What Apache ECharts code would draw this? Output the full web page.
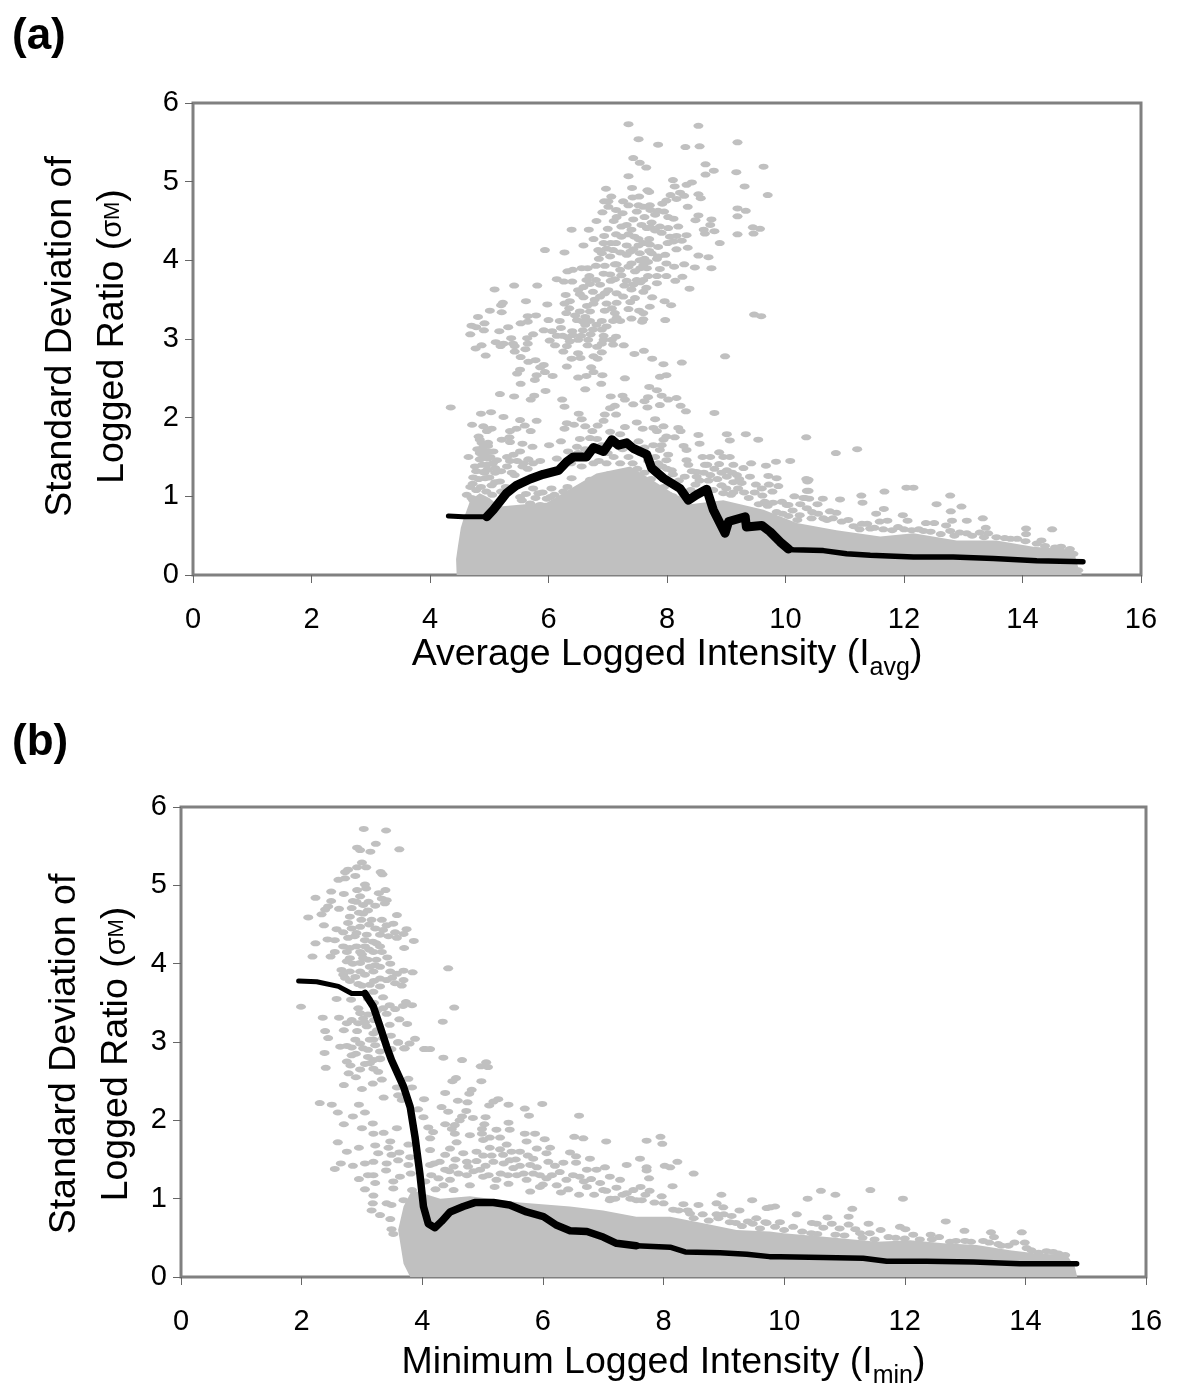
<!DOCTYPE html>
<html><head><meta charset="utf-8">
<script src="https://cdn.jsdelivr.net/npm/echarts@6/dist/echarts.min.js"></script>
<style>html,body{margin:0;padding:0;background:#fff}#c{width:1200px;height:1400px}</style>
</head><body><div id="c"></div>
<script>
const panelLabels=['(a)','(b)'];
const xTitleA=['Average Logged Intensity (I','avg',')'];
const xTitleB=['Minimum Logged Intensity (I','min',')'];
const yTitle=['Standard Deviation of','Logged Ratio (','σ','M',')'];

const lineAHead=[[4.31,0.75],[4.56,0.74],[4.96,0.74]];
const lineABody=[[4.96,0.74],[5.07,0.83],[5.29,1.04],[5.46,1.14],[5.69,1.22],[5.91,1.28],[6.17,1.33],[6.31,1.44],[6.42,1.50],[6.64,1.50],[6.76,1.62],[6.93,1.57],[7.07,1.72],[7.18,1.65],[7.32,1.68],[7.43,1.61],[7.66,1.53],[7.74,1.36],[7.94,1.23],[8.22,1.10],[8.36,0.95],[8.50,1.02],[8.67,1.09],[8.78,0.83],[8.98,0.53],[9.04,0.68],[9.32,0.74],[9.34,0.61],[9.60,0.63],[9.74,0.55],[9.91,0.42],[10.05,0.33]];
const lineATail=[[10.05,0.33],[10.13,0.32],[10.64,0.31],[11.03,0.27],[11.43,0.25],[12.16,0.23],[12.83,0.23],[13.51,0.21],[14.24,0.18],[15.02,0.17]];
const lineBHead=[[1.95,3.78],[2.25,3.77],[2.61,3.71],[2.83,3.62],[3.05,3.62]];
const lineBBody=[[3.05,3.62],[3.19,3.45],[3.30,3.20],[3.41,2.94],[3.49,2.77],[3.69,2.43],[3.80,2.17],[3.88,1.79],[3.96,1.32],[4.02,0.90],[4.10,0.68],[4.21,0.63],[4.32,0.71],[4.46,0.83],[4.68,0.90],[4.87,0.95],[5.18,0.95],[5.45,0.92],[5.73,0.83],[6.01,0.77],[6.23,0.66],[6.45,0.59],[6.73,0.58],[7.0,0.51],[7.22,0.43],[7.55,0.40]];
const lineBTail=[[7.55,0.40],[7.83,0.39],[8.11,0.38],[8.36,0.32],[8.94,0.31],[9.38,0.29],[9.76,0.26],[9.93,0.26],[10.65,0.25],[11.31,0.24],[11.70,0.20],[12.36,0.20],[13.14,0.19],[13.91,0.17],[14.85,0.17]];

const denseA=[[4.45,0],[4.44,0.2],[4.47,0.36],[4.52,0.6],[4.56,0.70],[4.68,0.95],[4.84,1.04],[5.0,0.98],[5.18,0.87],[5.6,0.9],[5.97,0.92],[6.42,1.12],[6.81,1.29],[7.38,1.38],[7.83,1.17],[8.39,0.9],[8.95,0.95],[9.63,0.83],[10.19,0.66],[10.86,0.57],[11.6,0.49],[12.16,0.53],[12.89,0.44],[13.56,0.44],[14.18,0.36],[14.86,0.32],[14.94,0.1],[15.0,0]];
const denseB=[[3.80,0],[3.69,0.17],[3.60,0.6],[3.69,0.9],[3.83,1.11],[4.3,1.0],[4.79,1.03],[5.62,0.95],[6.45,0.90],[7.0,0.85],[7.55,0.77],[8.11,0.77],[8.66,0.685],[9.21,0.60],[9.76,0.58],[9.99,0.56],[10.71,0.51],[11.54,0.45],[12.09,0.47],[12.64,0.43],[13.19,0.41],[13.74,0.34],[14.19,0.30],[14.69,0.28],[14.82,0.13],[14.86,0]];

const scatterA=[[7.35,5.73],[8.53,5.71],[7.52,5.54],[7.85,5.47],[8.31,5.44],[8.55,5.45],[9.19,5.50],[7.43,5.30],[7.54,5.24],[7.65,5.18],[8.65,5.22],[8.79,5.14],[8.65,5.09],[9.17,5.12],[9.63,5.19],[7.35,5.07],[8.10,5.02],[8.42,4.99],[8.33,4.96],[8.13,4.94],[9.31,4.94],[6.97,4.91],[7.41,4.92],[7.67,4.89],[7.70,4.87],[8.22,4.86],[8.06,4.83],[8.53,4.84],[8.57,4.79],[8.29,4.82],[8.16,4.78],[9.70,4.83],[7.06,4.81],[7.42,4.80],[7.53,4.81],[6.94,4.75],[7.01,4.75],[7.26,4.75],[7.99,4.76],[7.92,4.72],[7.01,4.68],[7.52,4.70],[7.60,4.68],[7.71,4.70],[8.35,4.68],[9.19,4.66],[9.33,4.63],[7.14,4.64],[6.91,4.61],[7.49,4.62],[7.72,4.64],[7.85,4.63],
[6.81,4.50],[7.15,4.55],[7.43,4.52],[8.02,4.55],[8.11,4.53],[8.53,4.57],[8.48,4.51],[8.75,4.52],[8.73,4.45],[9.19,4.56],[6.39,4.39],[6.68,4.39],[7.23,4.43],[7.32,4.45],[7.40,4.39],[7.57,4.45],[7.66,4.41],[7.74,4.48],[7.88,4.43],[7.91,4.35],[8.02,4.41],[8.19,4.43],[8.16,4.31],[8.33,4.32],[8.62,4.39],[8.64,4.34],[8.80,4.37],[9.19,4.33],[9.45,4.42],[9.57,4.40],[9.46,4.34],
[6.94,4.31],[7.14,4.33],[7.23,4.30],[6.76,4.27],[7.52,4.27],[7.70,4.27],[7.60,4.22],[7.71,4.20],[7.85,4.17],[8.01,4.22],[8.11,4.24],[8.89,4.22],[6.59,4.19],[6.93,4.22],[7.14,4.22],[7.32,4.19],[7.52,4.19],[8.16,4.14],[8.35,4.16],
[5.94,4.13],[6.27,4.10],[6.84,4.13],[6.98,4.15],[7.09,4.13],[6.90,4.09],[7.21,4.10],[7.38,4.11],[7.43,4.14],[7.04,4.05],[7.32,4.07],[7.54,4.09],[7.74,4.09],[7.97,4.07],[8.53,4.06],[8.70,4.04],[7.54,4.00],[7.83,4.02],
[7.12,3.95],[7.40,3.96],[7.60,3.94],[7.68,3.98],[7.99,3.96],[8.29,3.95],[8.12,3.92],[8.47,3.91],[8.75,3.90],[6.80,3.93],[6.95,3.93],[6.56,3.90],[6.66,3.90],[6.41,3.88],[6.32,3.86],[7.21,3.88],[7.46,3.86],[7.88,3.89],[7.66,3.90],[6.93,3.83],[7.04,3.82],[7.23,3.81],[6.69,3.80],[7.68,3.80],[7.83,3.80],[7.99,3.80],[8.26,3.79],
[6.14,3.76],[6.26,3.73],[6.40,3.73],[6.64,3.75],[6.80,3.75],[7.05,3.74],[7.32,3.74],[7.49,3.75],[7.60,3.75],[8.14,3.74],[7.83,3.71],[6.87,3.69],[7.43,3.69],[5.42,3.68],[5.81,3.68],[6.59,3.66],[5.09,3.63],[7.40,3.63],[7.65,3.65],[8.38,3.64],[6.50,3.62],[7.01,3.62],
[6.95,3.58],[7.15,3.58],[6.29,3.56],[6.53,3.57],[6.59,3.53],[6.87,3.54],[7.26,3.54],[7.46,3.52],[7.75,3.53],[6.36,3.48],[5.62,3.48],[5.23,3.46],[6.27,3.45],[5.98,3.44],[6.76,3.45],[6.98,3.45],[7.15,3.46],[7.38,3.47],[7.96,3.48],[8.07,3.43],[7.71,3.41],[5.20,3.43],[6.35,3.39],[7.07,3.39],[7.35,3.38],
[5.01,3.36],[5.21,3.34],[6.30,3.33],[6.53,3.35],[6.70,3.35],[6.95,3.36],[7.12,3.33],[7.53,3.36],[7.60,3.33],[9.47,3.31],[9.59,3.29],[4.81,3.28],[5.65,3.29],[5.79,3.30],[6.62,3.28],[7.15,3.27],[7.40,3.26],[7.60,3.25],[7.97,3.24],[6.0,3.24],[6.19,3.23],[6.48,3.24],[6.70,3.23],[6.90,3.23],[7.09,3.23],[7.21,3.23],[7.58,3.22],[4.92,3.20],[5.53,3.20],[5.65,3.22],[4.70,3.17],[4.78,3.15],[5.32,3.15],[6.21,3.14],[6.81,3.18],[6.98,3.16],[6.62,3.18],
[4.91,3.11],[5.17,3.10],[5.92,3.11],[6.06,3.10],[6.90,3.12],[6.58,3.11],[4.68,3.06],[5.74,3.06],[6.14,3.04],[6.41,3.05],[6.71,3.06],[6.93,3.04],[5.37,3.01],[5.64,3.01],[7.14,3.03],[6.24,3.04],[6.50,2.99],[6.67,2.99],[6.93,2.99],[7.07,2.99],[5.11,2.96],[5.24,2.94],[5.40,2.94],[5.65,2.94],[6.02,2.98],[6.36,2.97],[6.90,2.94],[7.09,2.93],[7.27,2.92],[4.87,2.92],[4.77,2.88],[5.19,2.91],[5.43,2.91],[6.11,2.92],[6.31,2.91],[6.66,2.92],[5.61,2.87],[5.43,2.84],[6.25,2.84],[6.50,2.82],[6.90,2.83],[7.61,2.85],[7.45,2.81],[4.94,2.79],[5.53,2.77],[6.54,2.76],[6.39,2.75],[6.76,2.78],[6.83,2.75],[7.75,2.75],[8.98,2.78],[5.66,2.71],[5.78,2.73],[8.25,2.70],[7.94,2.68],[5.92,2.67],[5.86,2.64],[6.31,2.65],[6.72,2.64],
[5.52,2.61],[5.47,2.56],[5.80,2.54],[5.94,2.58],[6.07,2.53],[6.50,2.51],[6.64,2.53],[6.76,2.58],[6.91,2.54],[7.29,2.50],[7.88,2.52],[7.99,2.54],[5.77,2.48],[5.53,2.43],[6.89,2.43],[7.70,2.39],[7.83,2.35],[6.62,2.36],[5.95,2.34],[5.18,2.30],[5.42,2.27],[5.76,2.28],[5.70,2.23],[6.23,2.23],[7.05,2.27],[7.25,2.28],[7.29,2.23],[7.91,2.28],[7.68,2.26],[7.62,2.21],[8.02,2.23],[8.16,2.25],[7.43,2.17],[7.88,2.16],[4.35,2.13],[6.27,2.14],[7.04,2.12],[7.12,2.15],[7.67,2.13],[8.23,2.15],[8.32,2.08],[4.86,2.05],[5.03,2.07],[6.51,2.05],[6.95,2.04],[7.14,2.04],[8.80,2.06],[5.24,2.01],[6.56,1.98],[5.52,1.97],[5.80,1.96],[6.93,1.96],[7.80,1.98],[4.71,1.91],[4.90,1.89],[5.04,1.86],[4.96,1.83],[5.46,1.86],[5.60,1.90],[5.35,1.83],[5.70,1.83],[6.31,1.93],[6.43,1.91],[6.27,1.86],[6.62,1.89],[6.83,1.90],[6.74,1.83],[7.29,1.88],[7.49,1.94],[7.59,1.86],[7.77,1.87],[7.83,1.83],[7.94,1.89],[8.19,1.87],[8.23,1.83],[7.04,1.82],[7.21,1.79],
[8.53,1.78],[9.01,1.79],[9.33,1.79],[4.82,1.76],[5.21,1.72],[5.34,1.75],[5.35,1.69],[4.84,1.72],[6.21,1.70],[6.53,1.73],[6.70,1.74],[6.82,1.73],[7.99,1.76],[8.13,1.75],[7.52,1.70],[7.94,1.72],[9.06,1.71],[9.54,1.72],[10.35,1.75],[8.55,1.67],[5.56,1.67],[6.01,1.65],[5.73,1.63],[4.90,1.63],[4.98,1.64],[6.48,1.63],[7.77,1.65],[7.91,1.65],[8.28,1.64],[4.84,1.55],[4.98,1.57],[5.07,1.57],[5.52,1.57],[5.41,1.53],[6.33,1.57],[8.33,1.59],[7.88,1.59],[8.88,1.56],[4.65,1.50],[4.87,1.48],[4.98,1.48],[5.13,1.46],[5.35,1.45],[5.66,1.47],[5.86,1.45],[6.14,1.48],[8.02,1.53],[8.73,1.50],[8.95,1.50],[9.06,1.50],[9.84,1.44],[10.08,1.45],[5.58,1.42],[4.76,1.38],[4.96,1.40],[5.10,1.36],[4.90,1.31],[6.56,1.38],[6.76,1.42],[6.98,1.42],[7.21,1.42],[7.99,1.46],[8.33,1.46],[8.36,1.40],[8.64,1.40],[8.88,1.41],[9.12,1.40],[9.42,1.42],[9.67,1.39],[9.29,1.36],[9.01,1.33],[8.50,1.31],[8.08,1.33],[8.73,1.27],[9.18,1.27],[9.40,1.25],[4.73,1.24],[4.93,1.23],[5.18,1.19],[5.43,1.27],[9.71,1.26],[9.85,1.23],[10.39,1.21],[9.01,1.25],[8.50,1.25],[4.68,1.12],[5.04,1.14],[5.74,1.10],[6.05,1.10],[6.39,1.23],[6.70,1.21],[7.04,1.23],[7.26,1.27],[8.92,1.14],[9.26,1.17],[9.88,1.13],[10.36,1.07],[9.78,1.06],[8.95,1.04],[9.12,1.05],[9.61,1.01],[5.83,1.04],[6.25,1.06],[4.73,0.95],[6.03,0.99],[10.33,0.98],[9.94,0.93],[10.05,0.89],[9.65,0.93],[9.79,0.92],[5.86,0.89],[5.69,0.91],[5.52,0.99],
[10.85,1.55],[11.21,1.60],[10.35,1.22],[10.37,1.19],[10.39,1.07],[10.30,0.98],[10.40,0.97],[10.63,0.97],[10.92,0.96],[11.28,1.01],[11.30,0.92],[11.67,1.06],[12.04,1.11],[12.16,1.11],[12.78,1.01],[12.55,0.90],[12.97,0.87],[12.79,0.81],[11.66,0.84],[11.53,0.78],[11.98,0.76],[10.54,0.90],[10.02,0.89],[10.36,0.85],[10.75,0.81],[10.86,0.79],[10.24,0.76],[10.44,0.72],[10.64,0.72],[11.06,0.70],[11.59,0.68],[11.72,0.69],[12.06,0.69],[12.81,0.69],[13.06,0.69],[13.33,0.72],[12.37,0.66],[12.51,0.66],[11.29,0.65],[11.38,0.65],[12.71,0.63],[13.38,0.60],[14.06,0.59],[14.50,0.58],[14.06,0.52],[11.43,0.59],[11.90,0.61],[12.13,0.57],[12.33,0.56],[12.78,0.56],[12.94,0.54],[13.06,0.53],[13.28,0.54],[13.42,0.53],[13.56,0.48],[13.91,0.46],[14.32,0.44],[14.24,0.40],[14.38,0.37],[14.80,0.33],[14.86,0.27],[14.94,0.06],
[4.62,1.02],[4.70,0.98],[4.78,1.08],[4.86,1.12],[4.95,1.06],[5.05,1.02],[4.72,1.16],[4.82,1.22],[4.92,1.30],[5.0,1.24],[5.1,1.18],[4.78,1.32],[4.88,1.40],[4.97,1.34],[5.06,1.42],[4.84,1.47],[4.93,1.52],[5.02,1.50],[4.80,1.60],[4.90,1.58],[4.98,1.68],[4.87,1.68],[5.1,1.30],[5.2,1.06],[5.28,1.12],[5.2,1.32],[5.3,1.38],[5.38,1.30],[5.47,1.45],[5.3,1.5],[5.56,1.38],[5.65,1.35],[5.74,1.42],
[5.55,0.95],[5.62,1.03],[5.78,0.98],[5.9,1.05],[5.97,0.97],[6.1,1.02],[6.18,0.95],[6.3,1.0],[6.32,1.12],[6.45,1.05],[6.5,0.98],[6.58,1.12],[6.65,1.05],[6.72,1.18],[6.8,1.1],[6.88,1.02],[6.95,1.15],[7.02,1.28],[7.08,1.1],[7.14,1.2],[7.2,1.02],[7.28,1.3],[7.32,1.12],[7.4,1.25],[7.47,1.05],[7.5,1.35],[7.55,1.18],[7.62,1.3],[7.68,1.1],[7.73,1.22],[7.8,1.35],[7.88,1.08],[7.95,1.12],[8.03,1.02],[8.1,1.0],[8.2,0.97],[8.28,1.03],[8.4,1.08],[8.48,1.15],[8.55,1.2],[8.62,1.3],[8.7,1.2],[8.78,1.08],[8.85,1.22],[8.92,1.3],[9.0,1.1],[9.08,1.02],[9.12,1.18],[9.2,1.1],[9.3,1.05],[9.38,0.98],[9.48,1.05],[9.55,0.9],[9.7,0.88],[9.85,0.8],[9.95,0.78],[10.05,0.75],[10.12,0.82],[10.2,0.7],
[6.38,1.42],[6.5,1.55],[6.62,1.6],[6.85,1.45],[6.9,1.65],[7.0,1.55],[7.1,1.5],[7.15,1.66],[7.25,1.6],[7.35,1.5],[7.42,1.42],[7.55,1.55],[7.62,1.62],[7.68,1.45],[7.8,1.5],[7.85,1.42],[7.92,1.38],[8.0,1.35],[8.1,1.28],[8.2,1.2],[8.3,1.25],[8.42,1.32],[8.6,1.5],[8.68,1.4],[8.8,1.35],[9.1,1.3],[9.22,1.22],[9.5,1.15],[9.6,1.1],[9.72,1.15],[10.15,1.0],[10.25,0.9],[10.45,0.8],[10.55,0.78],[10.7,0.7],[10.8,0.72],[10.95,0.68],[11.15,0.62],[11.25,0.58],[11.5,0.6],[11.65,0.58],[11.8,0.57],[12.0,0.58],[12.25,0.58],[12.45,0.55],[12.62,0.52],[12.85,0.5],[13.15,0.5],[13.35,0.48],[13.7,0.47],[13.8,0.46],[14.05,0.43],[14.55,0.35],[14.65,0.36],
[7.0,4.4],[7.1,4.5],[7.25,4.6],[7.35,4.7],[7.62,4.55],[7.8,4.58],[7.95,4.62],[7.72,4.42],[7.8,4.38],[8.05,4.3],[8.25,4.25],[7.45,4.3],[7.35,4.33],[7.7,4.12],[7.85,4.05],[7.62,4.02],[7.35,3.92],[7.55,3.9],[7.15,3.95],[7.05,4.22],[6.85,4.02],[7.12,3.76],[7.28,3.68],[7.55,3.72],[7.6,3.6],[6.7,3.7],[6.75,3.6],[6.78,3.5],[6.65,3.42],[6.45,3.3],[6.58,3.22],[6.4,3.1],[6.55,3.04],[6.32,3.02],[6.75,3.12],[6.82,2.9]];

const scatterB=[[3.03,5.72],[3.40,5.70],[3.23,5.53],[2.92,5.48],[2.97,5.45],[3.62,5.46],[3.14,5.43],[3.00,5.29],[2.92,5.23],[3.07,5.23],[2.77,5.20],[2.72,5.17],[3.31,5.17],[3.34,5.14],[2.89,5.12],[2.72,5.09],[2.61,5.07],[3.05,5.01],[3.07,4.96],[2.92,4.94],[3.39,4.94],[3.28,4.90],[2.49,4.92],[2.70,4.89],[2.23,4.84],[2.49,4.80],[2.97,4.86],[3.33,4.83],[3.41,4.81],[3.38,4.77],[2.91,4.79],[3.11,4.79],[2.44,4.73],[2.39,4.69],[2.33,4.63],[3.22,4.74],[2.62,4.70],[2.83,4.71],[3.02,4.75],[2.11,4.59],[2.80,4.60],[3.02,4.64],[3.58,4.62],[2.99,4.56],[3.16,4.56],[3.33,4.56],[2.37,4.49],[3.52,4.51],[2.77,4.52],[3.41,4.49],[2.58,4.44],[2.83,4.45],[2.97,4.47],[3.22,4.45],[3.35,4.43],[3.74,4.44],[2.69,4.40],[2.91,4.39],[3.55,4.40],[3.69,4.38],[3.30,4.37],[3.44,4.35],[2.43,4.31],[2.55,4.30],[2.77,4.33],[3.05,4.30],[3.58,4.33],[3.86,4.29],[2.23,4.26],[3.24,4.26],[2.69,4.22],[2.91,4.22],[3.05,4.22],[3.70,4.20],[3.30,4.22],[2.55,4.15],[2.75,4.15],[2.97,4.15],[3.19,4.15],[3.33,4.15],[2.48,4.09],[2.18,4.09],[2.80,4.07],[3.02,4.07],[3.24,4.05],[3.42,4.08],[2.75,4.03],[2.97,4.01],[3.47,4.00],[3.13,3.96],[3.30,3.96],[4.43,3.94],[2.66,3.92],[2.80,3.90],[2.97,3.90],[3.19,3.90],[3.47,3.90],[3.69,3.91],[3.84,3.89],[3.58,3.87],[2.69,3.86],[2.89,3.83],[3.05,3.86],[3.30,3.81],[3.41,3.79],[3.69,3.79],[3.55,3.75],[3.66,3.72],[2.94,3.74],[3.13,3.73],[3.30,3.71],[3.19,3.64],[3.35,3.57],[2.58,3.55],[2.82,3.54],[3.73,3.51],[3.68,3.46],[3.83,3.47],[3.46,3.47],[1.99,3.45],[4.53,3.44],[2.94,3.43],[3.35,3.43],[3.55,3.42],[2.97,3.37],[3.41,3.36],[2.35,3.31],[2.62,3.31],[2.83,3.28],[3.02,3.30],[3.62,3.29],[2.75,3.24],[2.94,3.24],[3.75,3.23],[4.34,3.26],[3.08,3.20],[3.46,3.22],[2.39,3.14],[2.70,3.15],[2.92,3.14],[3.19,3.11],[2.44,3.05],[3.48,3.08],[2.89,3.03],[3.13,3.03],[3.88,3.04],[3.60,3.00],[3.79,2.98],[2.97,2.98],[3.22,2.96],[2.64,2.94],[2.83,2.93],[3.02,2.92],[3.70,2.92],[4.03,2.91],[4.13,2.91],[3.49,2.91],[2.38,2.86],[2.83,2.83],[3.10,2.81],[3.30,2.79],[4.35,2.80],[4.66,2.77],[5.06,2.74],[4.97,2.69],[5.09,2.68],[2.40,2.67],[2.81,2.70],[3.13,2.73],[2.97,2.65],[3.19,2.66],
[3.19,3.03],[3.60,2.99],[3.71,2.92],[4.05,2.91],[3.19,2.77],[3.30,2.78],[3.27,2.62],[3.33,2.52],[4.56,2.54],[4.50,2.50],[4.98,2.50],[3.77,2.53],[3.18,2.47],[3.58,2.42],[3.83,2.42],[4.38,2.35],[4.82,2.39],[4.78,2.34],[3.36,2.29],[3.60,2.32],[3.66,2.26],[4.03,2.27],[4.59,2.25],[4.75,2.23],[5.26,2.27],[5.18,2.24],[5.11,2.19],[5.43,2.20],[5.99,2.21],[4.32,2.17],[3.93,2.14],[4.43,2.11],[4.73,2.12],[5.70,2.15],[4.02,2.04],[4.66,2.05],[4.62,2.00],[4.84,2.03],[5.05,2.04],[5.77,2.06],[6.60,2.06],[3.18,1.96],[4.38,1.95],[4.54,1.94],[5.03,1.95],[5.43,1.97],[3.58,1.90],[4.10,1.91],[4.49,1.89],[4.99,1.89],[5.23,1.88],[5.45,1.88],[3.19,1.83],[3.36,1.84],[4.18,1.85],[4.13,1.77],[4.54,1.83],[4.79,1.81],[4.99,1.83],[5.70,1.83],[5.87,1.83],[5.12,1.78],[5.29,1.78],[6.03,1.76],[6.52,1.79],[6.67,1.77],[7.05,1.73],[7.72,1.74],[7.95,1.79],[7.98,1.70],[3.47,1.73],[3.77,1.69],[4.57,1.72],[5.01,1.75],[3.22,1.68],[3.44,1.65],[5.40,1.69],[5.73,1.73],[5.12,1.65],[4.46,1.64],[4.13,1.62],[4.90,1.60],[5.29,1.63],[5.90,1.64],[6.12,1.65],[3.27,1.58],[3.49,1.56],[3.62,1.59],[3.80,1.53],[4.38,1.56],[5.01,1.55],[5.34,1.56],[5.62,1.60],[6.06,1.58],[6.45,1.59],[6.55,1.54],[6.78,1.51],[7.61,1.51],[3.19,1.47],[3.41,1.45],[3.60,1.49],[4.29,1.47],[4.74,1.47],[5.18,1.47],[5.45,1.49],[5.84,1.51],[6.09,1.47],[6.34,1.46],[6.55,1.46],[8.23,1.47],[3.77,1.43],[4.13,1.43],[4.52,1.41],[7.39,1.43],[8.02,1.42],[8.11,1.40],[7.72,1.40],[7.03,1.40],[3.40,1.36],[3.81,1.32],[4.38,1.37],[4.76,1.41],[4.96,1.37],[5.51,1.39],[5.79,1.43],[6.28,1.34],[6.73,1.37],[6.89,1.37],[7.72,1.36],[8.50,1.32],[3.19,1.30],[3.63,1.28],[4.27,1.26],[4.74,1.30],[5.01,1.28],[5.57,1.30],[5.84,1.32],[6.61,1.28],[7.11,1.28],[7.76,1.26],[3.52,1.22],[3.22,1.20],[4.46,1.24],[5.23,1.24],[5.73,1.24],[6.06,1.26],[6.39,1.24],[7.28,1.24],[3.52,1.13],[3.83,1.11],[4.35,1.17],[4.79,1.17],[5.43,1.19],[5.95,1.15],[6.23,1.17],[6.73,1.15],[7.0,1.11],[7.22,1.14],[8.15,1.16],[3.19,1.04],[4.52,1.11],[7.50,1.11],[7.77,1.10],[5.79,1.09],[8.96,1.05],[3.41,0.94],[3.69,0.98],[7.11,0.98],[7.39,1.07],[7.64,0.98],[7.97,1.03],[9.47,0.98],[3.18,0.94],[3.49,0.92],[8.0,0.94],[8.33,0.93],[8.58,0.92],[8.88,0.94],[8.99,0.89],[9.26,0.85],[9.71,0.88],[3.30,0.79],[3.16,0.85],[3.47,0.74],[8.16,0.86],[8.88,0.80],[9.0,0.80],[9.13,0.78],[8.91,0.75],[9.20,0.69],[9.54,0.75],[9.40,0.71],[9.71,0.69],[8.44,0.81],[3.49,0.61],[3.52,0.55],
[9.77,0.89],[9.85,0.90],[10.39,1.0],[10.61,1.10],[10.85,1.05],[11.43,1.11],[11.97,1.0],[11.13,0.87],[10.21,0.80],[11.07,0.77],[10.72,0.76],[9.69,0.70],[9.93,0.70],[10.46,0.69],[10.54,0.68],[10.79,0.68],[11.07,0.67],[11.40,0.68],[12.68,0.71],[9.85,0.64],[10.15,0.64],[10.65,0.63],[10.92,0.62],[11.18,0.61],[11.60,0.60],[11.92,0.64],[12.01,0.61],[12.99,0.59],[13.43,0.57],[13.94,0.57],[13.48,0.51],[12.14,0.54],[12.43,0.54],[12.57,0.51],[11.42,0.56],[11.73,0.51],[11.26,0.56],[13.82,0.44],[13.99,0.44],[14.02,0.37],[13.0,0.46],[13.30,0.46],[13.55,0.42],[14.46,0.32],[14.22,0.31],[14.66,0.28],
[2.85,4.8],[2.95,4.65],[3.1,4.68],[3.12,4.5],[2.88,4.35],[3.08,4.37],[3.18,4.28],[2.8,4.2],[3.0,4.12],[3.12,4.18],[2.85,4.0],[3.1,4.05],[3.22,3.98],[2.72,3.82],[2.8,3.78],[3.0,3.72],[3.2,3.78],[3.5,3.82],[3.1,3.55],[3.2,3.5],[3.25,3.4],[3.1,3.35],[3.2,3.28],[3.05,3.25],[3.25,3.15],[3.35,3.05],[3.1,2.9],[3.3,2.88],[3.05,2.72],
[2.75,2.95],[2.9,2.85],[2.75,2.75],[2.3,2.22],[2.5,2.2],[2.6,2.1],[2.7,2.45],[2.78,2.6],[2.9,2.55],[3.0,2.4],[2.95,2.2],[3.05,2.1],[2.85,2.05],[2.7,1.95],[3.0,1.9],[2.6,1.72],[2.75,1.6],[2.95,1.65],[2.65,1.45],[2.55,1.38],[2.85,1.42],[3.05,1.45],[2.95,1.25],[3.05,1.12],[3.1,1.3],
[4.05,1.22],[4.15,1.3],[4.2,1.45],[4.22,1.12],[4.45,1.35],[4.55,1.5],[4.6,1.32],[4.68,1.58],[4.85,1.35],[4.9,1.48],[5.05,1.42],[5.1,1.3],[5.15,1.55],[5.2,1.15],[5.3,1.32],[5.35,1.45],[5.42,1.3],[5.48,1.6],[5.55,1.5],[5.62,1.42],[5.68,1.32],[5.75,1.55],[5.9,1.4],[5.95,1.3],[6.0,1.18],[6.15,1.3],[6.2,1.42],[6.3,1.08],[6.42,1.12],[6.5,1.3],[6.6,1.05],[6.68,1.22],[6.8,1.25],[6.85,1.05],[6.95,1.2],[7.05,1.1],[7.12,1.0],[7.2,1.0],[7.32,1.05],[7.45,1.0],[7.55,0.98],[7.62,1.15],[7.7,1.05],[7.85,0.95],[8.25,0.85],[8.4,0.85],[8.5,0.75],[8.65,0.8],[8.75,0.72],[9.1,0.7],[9.3,0.65],[9.48,0.68],[9.6,0.62],[10.0,0.6],[10.3,0.58],[10.45,0.56],[10.55,0.55],[10.85,0.54],[11.0,0.53],[11.3,0.5],[11.5,0.48],[11.85,0.5],[12.0,0.49],[12.25,0.48],[12.45,0.48],[12.75,0.45],[12.85,0.46],[13.1,0.45],[13.4,0.44],[13.6,0.4],[13.72,0.4],[14.1,0.34],[14.35,0.33],[14.55,0.3]];

const GRAY='#c0c0c0', FONT='"Liberation Sans", Arial, sans-serif';
const richBase={
  t:{fontFamily:FONT,fontSize:37.5,color:'#000',lineHeight:52},
  s:{fontFamily:FONT,fontSize:25,color:'#000',lineHeight:52,verticalAlign:'bottom',padding:[13,0,0,0]},
  g:{fontFamily:FONT,fontSize:29,color:'#000',lineHeight:52},
  m:{fontFamily:FONT,fontSize:22,color:'#000',lineHeight:52}
};
function xAxisFor(i,title,gap){return {gridIndex:i,type:'value',min:0,max:16,interval:2,
  axisLine:{show:false},axisTick:{show:true,length:8,lineStyle:{color:'#666',width:1}},splitLine:{show:false},
  axisLabel:{color:'#000',fontFamily:FONT,fontSize:29,margin:30},
  name:`{t|${title[0]}}{s|${title[1]}}{t|${title[2]}}`,nameLocation:'middle',nameGap:gap,nameTextStyle:{rich:richBase}};}
function yAxisFor(i,gap,pad){return {gridIndex:i,type:'value',min:0,max:6,interval:1,
  axisLine:{show:false},axisTick:{show:true,length:8,lineStyle:{color:'#666',width:1}},splitLine:{show:false},
  axisLabel:{color:'#000',fontFamily:FONT,fontSize:29,margin:14},
  name:`{t|${yTitle[0]}}\n{t|${yTitle[1]}}{g|${yTitle[2]}}{m|${yTitle[3]}}{t|${yTitle[4]}}`,nameLocation:'middle',nameGap:gap,nameRotate:90,nameTextStyle:{rich:richBase,align:'center',padding:pad}};}
function panelSeries(i,dense,pts,head,body,tail,bw){
  const base={xAxisIndex:i,yAxisIndex:i,silent:true,animation:false};
  const ln=(d,w)=>Object.assign({},base,{type:'line',data:d,showSymbol:false,z:5,lineStyle:{color:'#000',width:w,cap:'round',join:'round'}});
  return [
    Object.assign({},base,{type:'line',data:dense,showSymbol:false,lineStyle:{width:0},areaStyle:{color:GRAY,opacity:1},z:3}),
    Object.assign({},base,{type:'scatter',data:pts,symbol:'circle',symbolSize:[10,6],itemStyle:{color:GRAY,opacity:1},z:4,large:false}),
    ln(head,5),ln(body,bw),ln(tail,5.5)
  ];
}
const chart=echarts.init(document.getElementById('c'),null,{renderer:'canvas'});
chart.setOption({
  animation:false,backgroundColor:'#fff',
  title:panelLabels.map((t,i)=>({text:t,left:7,top:i?716:10,textStyle:{fontFamily:FONT,fontWeight:'bold',fontSize:44,color:'#000'}})),
  grid:[
    {left:193,top:103,width:948,height:472,show:true,borderColor:'#808080',borderWidth:3,backgroundColor:'#fff'},
    {left:181,top:807,width:965,height:470,show:true,borderColor:'#808080',borderWidth:3,backgroundColor:'#fff'}
  ],
  xAxis:[xAxisFor(0,xTitleA,54),xAxisFor(1,xTitleB,60)],
  yAxis:[yAxisFor(0,54,[0,0,0,5]),yAxisFor(1,38,[0,24,0,0])],
  series:[...panelSeries(0,denseA,scatterA,lineAHead,lineABody,lineATail,9),...panelSeries(1,denseB,scatterB,lineBHead,lineBBody,lineBTail,7.5)]
});
</script></body></html>
